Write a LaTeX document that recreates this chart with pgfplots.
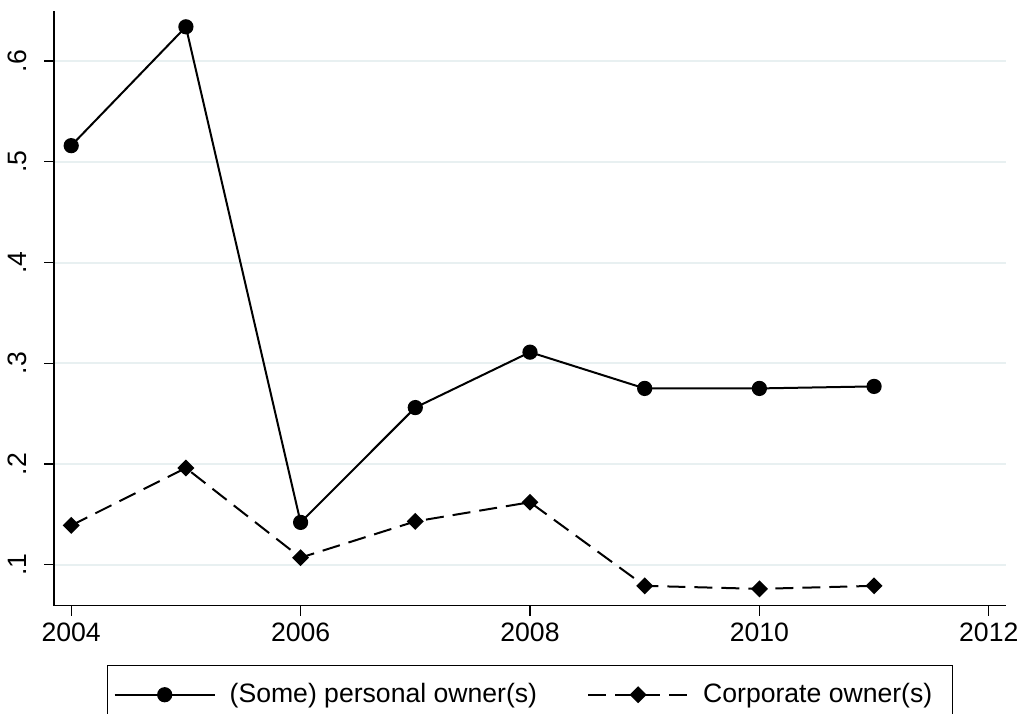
\documentclass[border=0pt]{standalone}
\usepackage{pgfplots}
\pgfplotsset{compat=1.18}
\usepackage{fontspec}
\setmainfont{Liberation Sans}
\definecolor{gridc}{RGB}{232,240,241}
\begin{document}
\begin{tikzpicture}
\begin{axis}[name=ax, scale only axis, width=476pt, height=297.5pt,
  xmin=2003.85, xmax=2012.15, ymin=0.0593, ymax=0.65,
  axis x line*=bottom, axis y line*=left,
  axis line style={line width=0.6pt},
  tick align=outside, major tick length=5pt,
  tick style={line width=0.6pt, black},
  xtick={2004,2006,2008,2010,2012}, xticklabels={2004,2006,2008,2010,2012},
  ytick={0.1,0.2,0.3,0.4,0.5,0.6}, yticklabels={.1,.2,.3,.4,.5,.6},
  ticklabel style={font=\fontsize{13.3}{15}\selectfont},
  yticklabel style={rotate=90, anchor=south},
  yticklabel shift=5pt,
  ymajorgrids, grid style={gridc, line width=1pt},
  legend columns=2,
  legend style={at={(0.5,0)}, anchor=north, yshift=-29.65pt, draw=black, line width=0.6pt,
    font=\fontsize{13.3}{15}\selectfont, inner xsep=3pt, inner ysep=4pt,
    /tikz/every even column/.append style={column sep=18pt},
    nodes={inner xsep=7pt, inner ysep=5pt}},
  legend image code/.code={\draw[mark repeat=2, mark phase=2] plot coordinates {(0pt,0pt) (25pt,0pt) (50pt,0pt)};},
]
\addplot[black, line width=1pt, mark=*, mark size=3.3pt] coordinates {
(2004,0.516) (2005,0.634) (2006,0.142) (2007,0.256) (2008,0.311) (2009,0.275) (2010,0.275) (2011,0.277)};
\addlegendentry{(Some) personal owner(s)}
\addplot[black, line width=1pt, dash pattern=on 9pt off 4.5pt, mark=square*, mark size=2.5pt, mark options={solid, rotate=45}] coordinates {
(2004,0.139) (2005,0.196) (2006,0.107) (2007,0.143) (2008,0.162) (2009,0.079) (2010,0.076) (2011,0.079)};
\addlegendentry{Corporate owner(s)}
\end{axis}
\pgfresetboundingbox
\useasboundingbox ([xshift=-27pt,yshift=-54.15pt]ax.south west) rectangle ([xshift=8pt,yshift=5.35pt]ax.north east);
\end{tikzpicture}
\end{document}
